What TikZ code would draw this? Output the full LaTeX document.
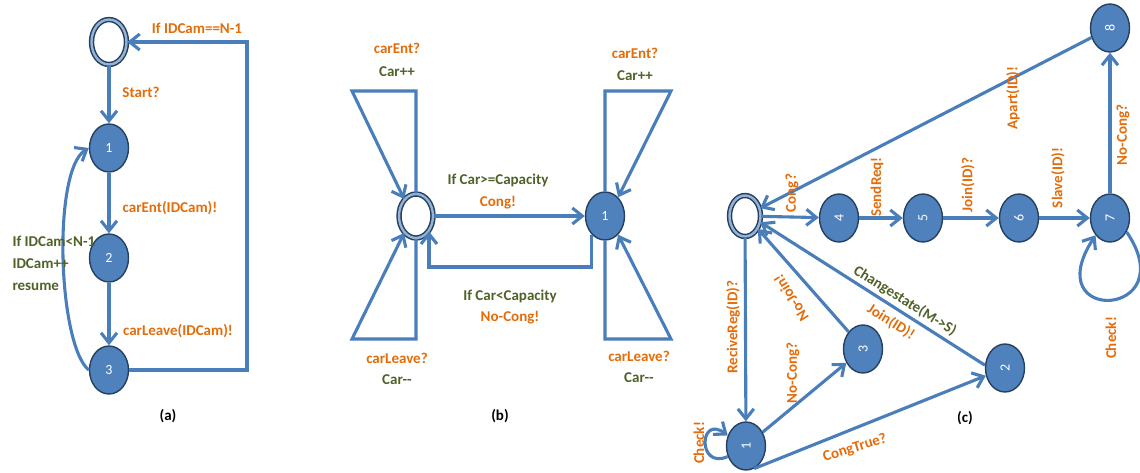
\documentclass[tikz,border=0pt]{standalone}
\usepackage{fontspec}
\setmainfont{Carlito}
\usepackage{xcolor}
\usepackage{tikz}
\usetikzlibrary{arrows.meta,calc,shapes.geometric}
\definecolor{edgeblue}{RGB}{74,126,187}
\definecolor{fillblue}{RGB}{79,129,189}
\definecolor{rimblue}{RGB}{37,64,97}
\definecolor{ringblue}{RGB}{149,179,215}
\definecolor{guardorange}{RGB}{228,108,10}
\definecolor{actgreen}{RGB}{79,98,40}

\begin{document}
\begin{tikzpicture}[x=1pt, y=-1pt,
    every node/.style={font=\fontsize{15}{18}\selectfont\bfseries},
    st/.style={ellipse, draw=rimblue, line width=1.4pt, fill=fillblue, text=white,
      minimum width=39pt, minimum height=48pt, inner sep=0pt, font=\fontsize{14}{16}\selectfont},
    init/.style={ellipse, draw=rimblue, line width=1.5pt, double=ringblue, double distance=2.4pt,
      fill=white, inner sep=0pt},
    tr/.style={edgeblue, line width=3.1pt, -{Straight Barb[length=10pt,width=16pt]}},
    og/.style={text=guardorange}, gr/.style={text=actgreen}]
  \useasboundingbox (0,0) rectangle (1140,472);

  \node[init, minimum width=35pt, minimum height=45pt] (a0) at (109,42) {};
  \node[st] (a1) at (109,148) {1};
  \node[st] (a2) at (109,258) {2};
  \node[st] (a3) at (109,370) {3};
  \coordinate (aR) at (247,42);
  \draw[tr] (a0) -- (a1);
  \draw[tr] (a1) -- (a2);
  \draw[tr] (a2) -- (a3);
  \draw[tr] (a3.east) -| (aR) -- (a0.east);
  \draw[tr] (a3.west) .. controls (58,345) and (52,170) .. (a1.west);
  \node[og] (aIf) at (197,28) {If IDCam==N-1};
  \node[og] (aStart) at (141,92) {Start?};
  \node[og] (aEnt) at (170,208) {carEnt(IDCam)!};
  \node[og] (aLeave) at (178,331) {carLeave(IDCam)!};
  \node[gr, anchor=west, align=left, font=\fontsize{15}{22}\selectfont\bfseries] (aBack) at (9,263) {If IDCam<N-1\\IDCam++\\resume};
  \node[text=black] (aCap) at (168,416) {(a)};

  \node[init, minimum width=34pt, minimum height=44pt] (b0) at (416,216) {};
  \node[st] (b1) at (605,216) {1};
  \coordinate (bTL) at (352,91);
  \coordinate (bBL) at (352,339);
  \coordinate (bTR) at (671,91);
  \coordinate (bBR) at (671,339);
  \coordinate (bLow) at (0,267);
  \draw[tr] (b0) -- (b1);
  \draw[tr] (b1.235) -- (b1.235 |- bLow) -| (b0.-50);
  \draw[tr] (b0.north) |- (bTL) -- (b0.125);
  \draw[tr] (b0.south) |- (bBL) -- (b0.235);
  \draw[tr] (b1.north) |- (bTR) -- (b1.55);
  \draw[tr] (b1.south) |- (bBR) -- (b1.-55);
  \node[og] (bEntL) at (397,48) {carEnt?};
  \node[gr] (bIncL) at (397,72) {Car++};
  \node[og] (bEntR) at (635,53) {carEnt?};
  \node[gr] (bIncR) at (635,76) {Car++};
  \node[og] (bLeaveL) at (397,358) {carLeave?};
  \node[gr] (bDecL) at (397,380) {Car-{}-};
  \node[og] (bLeaveR) at (639,356) {carLeave?};
  \node[gr] (bDecR) at (639,378) {Car-{}-};
  \node[gr] (bGe) at (498,180) {If Car>=Capacity};
  \node[og] (bCong) at (498,203) {Cong!};
  \node[gr] (bLt) at (510,296) {If Car<Capacity};
  \node[og] (bNoCong) at (510,318) {No-Cong!};
  \node[text=black] (bCap) at (500,416) {(b)};

  \node[init, minimum width=31pt, minimum height=41pt] (c0) at (745,216) {};
  \node[st] (c4) at (839,218) {\rotatebox{90}{4}};
  \node[st] (c5) at (923,218) {\rotatebox{90}{5}};
  \node[st] (c6) at (1019,218) {\rotatebox{90}{6}};
  \node[st] (c7) at (1110,218) {\rotatebox{90}{7}};
  \node[st] (c8) at (1110,28) {\rotatebox{90}{8}};
  \node[st] (c3) at (863,349) {\rotatebox{90}{3}};
  \node[st] (c2) at (1005,368) {\rotatebox{90}{2}};
  \node[st] (c1) at (746,446) {\rotatebox{90}{1}};
  \draw[tr] (c0) -- (c4);
  \draw[tr] (c4) -- (c5);
  \draw[tr] (c5) -- (c6);
  \draw[tr] (c6) -- (c7);
  \draw[tr] (c7) -- (c8);
  \draw[tr] (c8) -- (c0);
  \draw[tr] (c0) -- (c1);
  \draw[tr] (c1) -- (c3);
  \draw[tr] (c1.-70) -- (c2);
  \draw[tr] (c3.130) -- (c0.-45);
  \draw[tr] (c2.172) -- (c0.-22);
  \draw[tr] (c7.-40) .. controls (1185,318) and (1036,326) .. (c7.-130);
  \draw[tr] (c1.210) .. controls (697,470) and (699,414) .. (c1.150);
  \node[og, rotate=90] (cCong) at (792,193) {Cong?};
  \node[og, rotate=90] (cSend) at (877,187) {SendReq!};
  \node[og, rotate=90] (cJoinQ) at (968,185) {Join(ID)?};
  \node[og, rotate=90] (cSlave) at (1058,178) {Slave(ID)!};
  \node[og, rotate=90] (cApart) at (1013,98) {Apart(ID)!};
  \node[og, rotate=90] (cNoCongT) at (1123,135) {No-Cong?};
  \node[og, rotate=90] (cCheckT) at (1111,338) {Check!};
  \node[og, rotate=90] (cRecv) at (733,327) {ReciveReg(ID)?};
  \node[og, rotate=90] (cNoCongB) at (793,373) {No-Cong?};
  \node[og, rotate=90] (cCheckB) at (699,443) {Check!};
  \node[og, rotate=17] (cTrue) at (855,448) {CongTrue?};
  \node[og, rotate=122] (cNoJoin) at (791,298) {No-Join!};
  \node[gr, rotate=-32] (cState) at (905,301) {Changestate(M->S)};
  \node[og, rotate=-32] (cJoinX) at (891,322) {Join(ID)!};
  \node[text=black] (cCap) at (965,418) {(c)};
\end{tikzpicture}
\end{document}
